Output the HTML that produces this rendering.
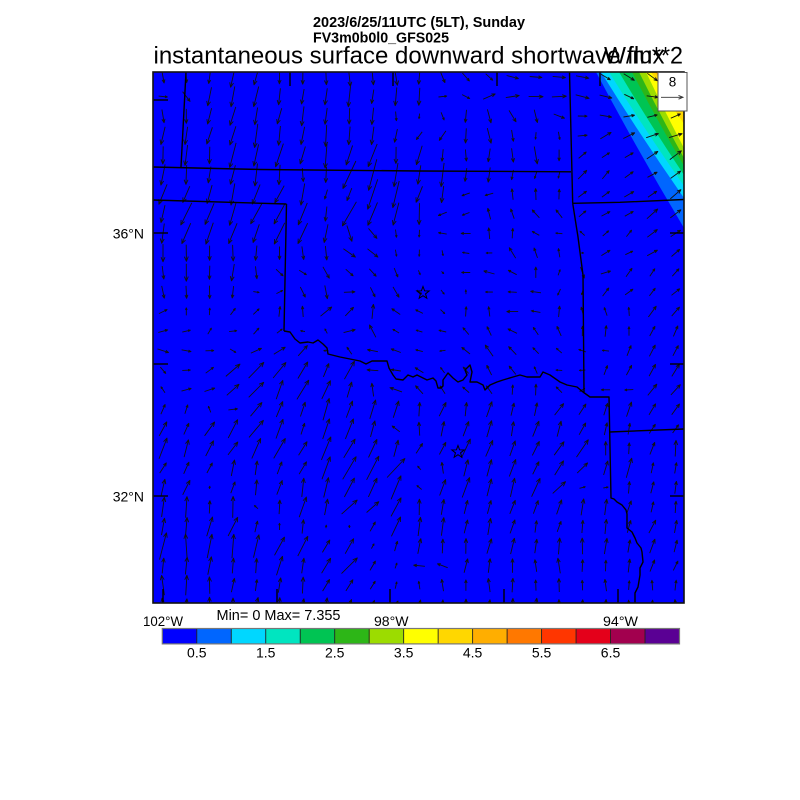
<!DOCTYPE html>
<html><head><meta charset="utf-8"><style>
html,body{margin:0;padding:0;background:#fff;}
svg{display:block;}
text{font-family:"Liberation Sans",Arial,Helvetica,sans-serif;fill:#000;}
</style></head><body>
<svg id="s" width="800" height="800" viewBox="0 0 800 800" xmlns="http://www.w3.org/2000/svg">
<defs><clipPath id="clip"><rect x="153" y="72" width="531" height="531"/></clipPath></defs>
<rect x="0" y="0" width="800" height="800" fill="#fff"/>
<rect x="153" y="72" width="531" height="531" fill="#0000ff"/>
<g id="bands" clip-path="url(#clip)"></g>
<g id="arrows" clip-path="url(#clip)"></g>
<g fill="none" stroke="#000" stroke-width="1.4" stroke-linejoin="round" clip-path="url(#clip)">
<path d="M186,72 L181,167"/>
<path d="M153,167 L260,169.5 L420,171 L571,171.8"/>
<path d="M153,200 L286.5,204"/>
<path d="M286.5,204 L284,331"/>
<path d="M569.5,72 L572.7,203.3"/>
<path d="M572.7,203.3 L620,202.3 L684,199.5"/>
<path d="M572.7,203.3 L578,237 L583,275 L584,392"/>
<path d="M284,331 L290,332 L295,339 L300,343 L308,342 L313,343 L318,340 L323,344 L327,348 L328,354 L340,357 L350,359 L360,361 L366,364 L372,361 L387,361 L389,368 L393,375 L396,379 L403,380 L408,375 L413,377 L417,375 L423,378 L427,380 L433,378 L436,381 L438,388 L441,388 L443,386 L443,380 L448,373 L453,378 L458,382 L463,380 L467,375 L465,370 L470,365 L472,372 L470,382 L477,382 L483,385 L485,390 L490,385 L497,382 L503,380 L513,377 L520,375 L527,377 L540,377 L543,372 L550,375 L560,382 L567,385 L577,387 L583,392 L590,397 L609,397 L611,498 L614,499 L617,502 L622,505 L626,510 L627,514 L627,528 L632,532 L635,538 L637,543 L641,548 L642,552 L643,562 L640,568 L640,575 L638,587 L635,593 L635,603"/>
<path d="M609.5,432 L684,429"/>
</g>
<g fill="none" stroke="#000" stroke-width="1">
<path id="star1"/><path id="star2"/>
</g>
<g stroke="#000" stroke-width="1.4">
<line x1="290" y1="72" x2="290" y2="86"/><line x1="393" y1="72" x2="393" y2="86"/><line x1="497" y1="72" x2="497" y2="86"/><line x1="600" y1="72" x2="600" y2="86"/>
<line x1="163" y1="589" x2="163" y2="603"/><line x1="277" y1="589" x2="277" y2="603"/><line x1="390" y1="589" x2="390" y2="603"/><line x1="504" y1="589" x2="504" y2="603"/><line x1="618" y1="589" x2="618" y2="603"/>
<line x1="153" y1="100" x2="168" y2="100"/><line x1="153" y1="233" x2="168" y2="233"/><line x1="153" y1="364" x2="168" y2="364"/><line x1="153" y1="496" x2="168" y2="496"/>
<line x1="670" y1="233" x2="684" y2="233"/><line x1="670" y1="364" x2="684" y2="364"/><line x1="670" y1="496" x2="684" y2="496"/>
</g>
<rect x="153" y="72" width="531" height="531" fill="none" stroke="#111" stroke-width="1.6"/>
<rect x="658" y="72.5" width="29" height="38.5" fill="#fff" stroke="#555" stroke-width="1"/>
<text x="672.5" y="86.5" font-size="13.5" text-anchor="middle">8</text>
<path d="M661,97.3 L683,97.3 M678.5,95.4 L683,97.3 L678.5,99.2" fill="none" stroke="#333" stroke-width="0.9"/>

<text x="313" y="27" font-size="14.4" font-weight="bold" textLength="212" lengthAdjust="spacingAndGlyphs">2023/6/25/11UTC (5LT), Sunday</text>
<text x="313" y="42.5" font-size="14.4" font-weight="bold" textLength="136" lengthAdjust="spacingAndGlyphs">FV3m0b0l0_GFS025</text>
<text x="153.5" y="63.5" font-size="24" textLength="511" lengthAdjust="spacingAndGlyphs">instantaneous surface downward shortwave flux</text>
<text x="604" y="63.5" font-size="24" textLength="79" lengthAdjust="spacingAndGlyphs">W/m**2</text>

<text x="144" y="238.5" font-size="14" text-anchor="end">36°N</text>
<text x="144" y="501.5" font-size="14" text-anchor="end">32°N</text>

<text x="216.5" y="620" font-size="14.5" textLength="124" lengthAdjust="spacingAndGlyphs">Min= 0 Max= 7.355</text>
<text x="143" y="626" font-size="14" textLength="40" lengthAdjust="spacingAndGlyphs">102°W</text>
<text x="374" y="626" font-size="14" textLength="34.5" lengthAdjust="spacingAndGlyphs">98°W</text>
<text x="603" y="626" font-size="14" textLength="35" lengthAdjust="spacingAndGlyphs">94°W</text>

<g id="cbar"></g>
</svg>
<script>
(function(){
var NS="http://www.w3.org/2000/svg";
function el(tag,attrs,parent){var e=document.createElementNS(NS,tag);for(var k in attrs)e.setAttribute(k,attrs[k]);parent.appendChild(e);return e;}

/* colour bands in top-right corner */
var bands=document.getElementById('bands');
var B=[[596,228,'#0066ff'],[601,198,'#00d7ff'],[609,186,'#00e5c0'],[619,175,'#00c453'],[632,166,'#2db617'],[639,158,'#9cdc00'],[646,148,'#ffff00'],[651,124,'#ffd700'],[655,112,'#ffae00'],[664,92,'#ff7800']];
B.forEach(function(b){var xt=b[0],yr=b[1];var cx=xt+0.47*(684-xt),cy=72+0.5*(yr-72);
el('path',{d:'M'+xt+',72 Q'+cx+','+cy+' 684,'+yr+' L686,'+yr+' L686,70 L'+xt+',70 Z',fill:b[2]},bands);});

/* colour bar */
var cb=document.getElementById('cbar');
var cols=['#0000ff','#0066ff','#00d7ff','#00e5c0','#00c453','#2db617','#9cdc00','#ffff00','#ffd700','#ffae00','#ff7800','#ff3600','#e4001a','#a2004e','#5a0094'];
var x0=162.3,w=(679.5-162.3)/15,y0=628.5,h=15.4;
cols.forEach(function(c,i){el('rect',{x:x0+i*w,y:y0,width:w,height:h,fill:c},cb);});
for(var i=1;i<15;i++){el('line',{x1:x0+i*w,y1:y0,x2:x0+i*w,y2:y0+h,stroke:'#222','stroke-width':0.9},cb);}
el('rect',{x:x0,y:y0,width:w*15,height:h,fill:'none',stroke:'#777','stroke-width':1.2},cb);
var labs=['0.5','1.5','2.5','3.5','4.5','5.5','6.5'];
labs.forEach(function(t,k){var tx=el('text',{x:x0+(2*k+1)*w,y:657.5,'font-size':14,'text-anchor':'middle'},cb);tx.textContent=t;});

/* stars */
function star(cx,cy,R,r){var d='';for(var k=0;k<10;k++){var a=-Math.PI/2+k*Math.PI/5;var rr=(k%2==0)?R:r;d+=(k==0?'M':'L')+(cx+rr*Math.cos(a)).toFixed(2)+','+(cy+rr*Math.sin(a)).toFixed(2);}return d+'Z';}
document.getElementById('star1').setAttribute('d',star(423,293,6.5,2.7));
document.getElementById('star2').setAttribute('d',star(458,452,6.5,2.7));

/* wind field anchors: x,y,dx,dy */
var A=[
[175,78,0,10],[300,78,0,11],[420,78,0,11],[470,80,5,6],[520,78,10,1],[570,78,10,1],[620,78,8,4],[660,78,7,6],
[163,97,7,0],[240,97,-2,14],[330,97,0,15],[410,97,0,14],[450,97,6,0],[500,97,10,-3],[550,97,10,1],[620,97,8,3],
[175,116,0,10],[260,116,-2,13],[350,116,0,12],[420,116,0,4],[470,116,0,11],[530,116,3,10],[600,116,8,0],[660,116,8,-3],
[180,135,-3,14],[240,135,-5,16],[330,135,-2,16],[420,135,-5,6],[480,135,1,13],[540,135,0,6],[620,135,7,-5],[670,135,9,-4],
[180,154,-2,14],[260,154,-5,18],[330,154,-4,17],[400,154,-1,15],[460,154,0,8],[530,154,3,12],[610,154,7,-4],[670,154,9,-5],
[200,174,-2,14],[300,174,-1,12],[370,174,-7,22],[430,174,-4,16],[480,174,-1,10],[540,174,-2,5],[593,174,6,-6],[650,174,8,-4],
[200,194,-4,14],[280,194,-6,16],[330,194,-1,8],[395,194,-8,22],[440,194,-2,12],[470,194,-6,3],[540,194,0,-8],[600,194,6,-4],[660,194,8,-5],
[200,213,-6,16],[290,213,-6,18],[360,213,-8,20],[410,213,-2,16],[450,213,-6,2],[500,213,-2,-8],[550,213,-5,-6],[600,213,6,-4],[660,213,8,-6],
[200,233,-5,15],[300,233,-6,16],[372,233,6,8],[410,233,0,6],[460,233,-7,-1],[500,233,0,-9],[560,233,-5,0],[610,233,4,-4],[660,233,8,-5],
[200,253,0,12],[300,253,0,11],[360,253,8,6],[410,253,0,5],[480,253,-5,0],[510,253,-5,-8],[560,253,-1,-6],[620,253,6,-4],[670,253,8,-5],
[200,272,0,12],[300,272,5,4],[370,272,4,6],[440,272,2,2],[490,272,-8,-2],[540,272,0,-8],[580,272,3,8],[630,272,4,-6],
[200,292,0,10],[320,292,2,10],[380,292,4,8],[440,292,3,3],[500,292,-6,0],[530,292,-8,0],[570,292,-2,4],[620,292,6,-6],[670,292,6,-6],
[200,311,0,-6],[300,311,0,-8],[340,311,8,-6],[370,311,0,-10],[400,311,-6,-4],[480,311,0,-8],[520,311,-8,0],[560,311,0,-8],[610,311,-3,-6],[660,311,6,-8],
[180,331,6,-2],[260,331,4,-4],[300,331,-3,0],[360,331,8,-2],[383,331,-6,-8],[407,331,-4,-2],[470,331,-4,-6],[540,331,-4,-6],[600,331,0,-8],[660,331,4,-8],
[170,350,8,2],[230,350,5,2],[280,350,10,-5],[330,350,-4,0],[372,350,-8,-2],[440,350,-5,0],[488,350,-6,-8],[540,350,-4,-4],[600,350,-5,-1],[660,350,3,-8],
[165,370,4,4],[210,370,6,-6],[245,370,13,-11],[300,370,8,-15],[350,370,6,-13],[383,370,-8,0],[450,370,-4,-4],[500,370,-4,-6],[560,370,-5,-1],[620,370,4,-8],[670,370,6,-8],
[165,389,-3,-4],[200,389,8,-2],[240,389,11,-9],[290,389,7,-16],[330,389,6,-15],[372,389,0,-10],[395,389,-8,-4],[460,389,-5,-5],[533,389,0,-8],[580,389,-4,2],[620,389,-6,0],[660,389,6,-8],
[170,409,3,-8],[210,409,-2,-4],[233,409,8,0],[280,409,7,-12],[330,409,6,-14],[390,409,6,-14],[450,409,3,-10],[520,409,3,-10],[570,409,6,-8],[620,409,4,-10],[670,409,4,-8],
[170,429,4,-10],[220,429,7,-13],[260,429,10,-16],[300,429,2,-8],[350,429,6,-15],[397,429,-6,-6],[440,429,3,-10],[500,429,4,-12],[560,429,4,-10],[610,429,1,-9],[660,429,4,-7],
[170,448,6,-14],[230,448,7,-12],[280,448,7,-14],[325,448,8,-16],[370,448,7,-14],[420,448,4,-8],[480,448,5,-14],[530,448,5,-12],[570,448,8,-12],[620,448,1,-10],[670,448,2,-11],
[170,468,4,-8],[230,468,4,-11],[280,468,4,-11],[350,468,8,-18],[397,468,14,-14],[420,468,-3,-3],[470,468,3,-12],[530,468,4,-12],[580,468,6,-8],[625,468,2,-14],[670,468,2,-8],
[170,487,5,-13],[210,487,0,-2],[260,487,2,-11],[330,487,4,-16],[397,487,9,-16],[420,487,-3,-3],[460,487,4,-14],[520,487,5,-14],[568,487,10,-10],[592,487,4,0],[640,487,1,-10],
[170,507,2,-16],[233,507,2,-15],[257,507,-3,-3],[300,507,4,-14],[360,507,9,-11],[420,507,2,-11],[480,507,3,-12],[540,507,3,-12],[600,507,2,-12],[660,507,2,-9],
[175,526,3,-13],[233,526,5,-15],[280,526,0,-6],[340,526,0,-2],[400,526,4,-14],[460,526,3,-12],[520,526,3,-10],[580,526,2,-9],[640,526,4,-9],
[175,546,2,-19],[233,546,4,-18],[290,546,6,-16],[350,546,6,-10],[373,546,2,-3],[420,546,2,-12],[480,546,2,-12],[540,546,2,-11],[602,546,2,-14],[660,546,2,-10],
[175,565,2,-12],[230,565,1,-13],[300,565,4,-12],[350,565,10,-12],[397,565,1,-4],[420,565,-8,0],[480,565,1,-11],[540,565,0,-11],[600,565,1,-9],[660,565,3,-8],
[175,585,0,-14],[240,585,1,-10],[300,585,2,-12],[340,585,4,-8],[400,585,2,-6],[470,585,0,-9],[540,585,0,-9],[610,585,0,-8],[670,585,0,-8],
[175,604,0,-10],[300,604,1,-10],[450,604,0,-8],[600,604,0,-8]
];
function field(x,y){var sx=0,sy=0,sw=0,sm=0;for(var k=0;k<A.length;k++){var a=A[k];var ddx=x-a[0],ddy=(y-a[1])*1.2;var d2=ddx*ddx+ddy*ddy;if(d2<1)return[a[2],a[3]];var wt=1/(d2*d2*d2);var m=Math.sqrt(a[2]*a[2]+a[3]*a[3]);sx+=wt*a[2];sy+=wt*a[3];sm+=wt*m;sw+=wt;}
 var vx=sx/sw,vy=sy/sw,vm=Math.sqrt(vx*vx+vy*vy),mm=sm/sw;if(vm<0.01)return[0,0];var f=Math.min(mm/vm,2.2);return[vx*f,vy*f];}
function hash(i,j){var s=Math.sin(i*127.1+j*311.7)*43758.5453;return s-Math.floor(s);}
var d='';
for(var j=0;j<28;j++){for(var i=0;i<23;i++){
 var cx=163+23.3*i, cy=77+19.55*j;
 var v=field(cx,cy);var dx=v[0]*1.3,dy=v[1]*1.3;
 var ang=(hash(i,j)-0.5)*0.35, sc=0.85+0.3*hash(j+7,i+3);
 var ca=Math.cos(ang),sa=Math.sin(ang);
 var ndx=(dx*ca-dy*sa)*sc, ndy=(dx*sa+dy*ca)*sc;
 var len=Math.sqrt(ndx*ndx+ndy*ndy);
 if(len<2.5){ndx=ndx/(len||1)*2.5;ndy=ndy/(len||1)*2.5;len=2.5;}
 var tx=cx-ndx/2,ty=cy-ndy/2,hx=cx+ndx/2,hy=cy+ndy/2;
 var ux=ndx/len,uy=ndy/len;var hl=Math.min(5,Math.max(2,len*0.3));var ha=0.4;
 var c1=Math.cos(ha),s1=Math.sin(ha);
 var ax1=hx+hl*(-ux*c1+uy*s1), ay1=hy+hl*(-uy*c1-ux*s1);
 var ax2=hx+hl*(-ux*c1-uy*s1), ay2=hy+hl*(-uy*c1+ux*s1);
 d+='M'+tx.toFixed(1)+','+ty.toFixed(1)+'L'+hx.toFixed(1)+','+hy.toFixed(1)+'M'+ax1.toFixed(1)+','+ay1.toFixed(1)+'L'+hx.toFixed(1)+','+hy.toFixed(1)+'L'+ax2.toFixed(1)+','+ay2.toFixed(1);
}}
el('path',{d:d,fill:'none',stroke:'#111','stroke-width':0.9,'stroke-linejoin':'round'},document.getElementById('arrows'));
})();
</script>
</body></html>
